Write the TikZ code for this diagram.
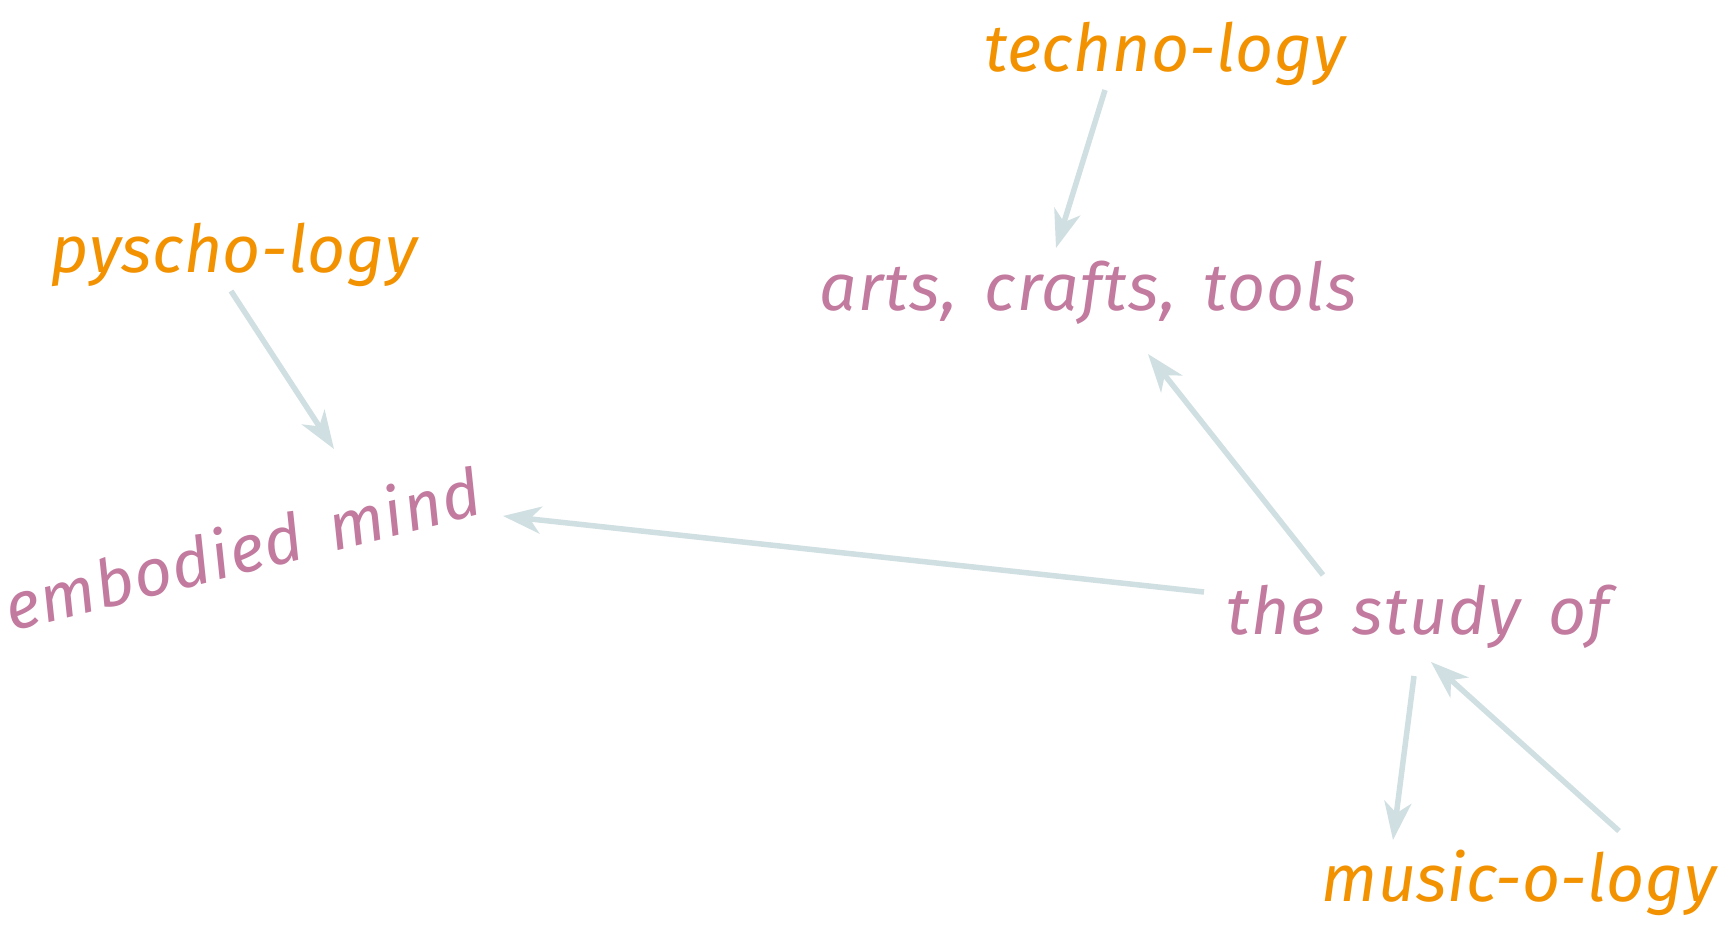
\documentclass[tikz,border=0pt]{standalone}
\usepackage{fontspec}
\setmainfont{Fira Sans}
\newfontfamily\hand[WordSpace=1.5,LetterSpace=2]{Fira Sans}
\newfontfamily\handlbl[LetterSpace=0.8]{Fira Sans}
\usetikzlibrary{arrows.meta}
\definecolor{orng}{HTML}{F39200}
\definecolor{mauve}{HTML}{C27A9F}
\definecolor{arrowc}{HTML}{D0DFE2}
\begin{document}
\begin{tikzpicture}[x=1pt,y=-1pt,
  txt/.style={inner sep=0pt, anchor=base},
  lbl/.style={txt,text=orng, font=\handlbl\fontsize{66}{70}\selectfont\itshape},
  term/.style={txt,text=mauve, font=\hand\fontsize{66}{70}\selectfont\itshape},
  arr/.style={draw=arrowc, line width=5.5pt, -{Stealth[length=38pt,width=27pt,inset=11pt]}}]
\useasboundingbox[fill=white] (0,0) rectangle (1719,926);
\node[lbl] (techno) at (1165,71) {techno-logy};
\node[lbl] (pyscho) at (234,272) {pyscho-logy};
\node[term] (arts) at (1088,310) {arts, crafts, tools};
\node[term,anchor=center,rotate=14] (embodied) at (242,548) {embodied mind};
\node[term] (study) at (1418,634) {the study of};
\node[lbl] (music) at (1519,901) {music-o-logy};

\draw[arr] ([shift={(-60,19)}]techno.base) -- ([shift={(-32,-62)}]arts.base);
\draw[arr] ([shift={(-3,19)}]pyscho.base) -- ([shift={(92,-99)}]embodied.center);
\draw[arr] ([shift={(-95,-59)}]study.base) -- ([shift={(60,44)}]arts.base);
\draw[arr] ([shift={(-214,-42)}]study.base) -- ([shift={(261,-32)}]embodied.center);
\draw[arr] ([shift={(-4,42)}]study.base) -- ([shift={(-126,-61)}]music.base);
\draw[arr] ([shift={(100,-70)}]music.base) -- ([shift={(13,28)}]study.base);
\end{tikzpicture}
\end{document}
